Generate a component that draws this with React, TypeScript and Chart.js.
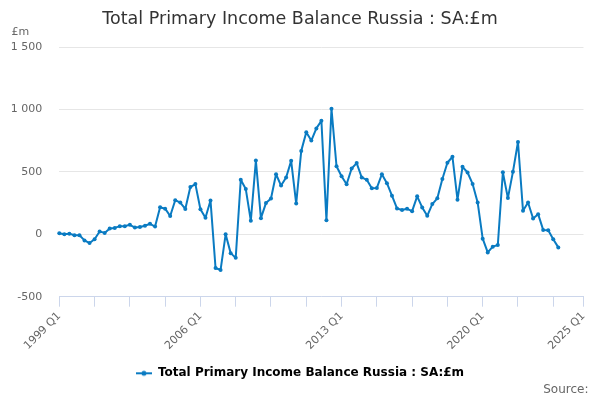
import React, { useEffect, useRef } from "react";
import { Chart, registerables } from "chart.js";

Chart.register(...registerables);

const TITLE = "Total Primary Income Balance Russia : SA:£m";
const SERIES_NAME = "Total Primary Income Balance Russia : SA:£m";
const UNIT_LABEL = "£m";
const SOURCE_LABEL = "Source:";

const START_YEAR = 1999;
const END_YEAR = 2025; // axis runs to 2025 Q1
const quarterLabels: string[] = [];
for (let y = START_YEAR; y <= END_YEAR; y++) {
  for (let q = 1; q <= 4; q++) {
    if (y === END_YEAR && q > 1) break;
    quarterLabels.push(`${y} Q${q}`);
  }
}

const shownLabels = ["1999 Q1", "2006 Q1", "2013 Q1", "2020 Q1", "2025 Q1"];

// 1999 Q1 .. 2023 Q4 (£m)
const values1999to2003 = [8, 0, 5, -8, -8, -49, -70, -40, 22, 11, 46, 51, 65, 65, 76, 54, 59, 68, 84, 62];
const values2004to2008 = [216, 205, 146, 273, 254, 203, 378, 402, 200, 132, 270, -270, -286, 0, -151, -189, 437, 362, 108, 590];
const values2009to2013 = [129, 250, 286, 481, 390, 455, 588, 246, 668, 818, 751, 848, 909, 112, 1005, 545, 465, 401, 527, 570];
const values2014to2018 = [455, 436, 368, 371, 481, 409, 309, 207, 194, 204, 185, 304, 215, 148, 242, 288, 443, 573, 621, 277];
const values2019to2023 = [540, 495, 403, 255, -35, -145, -99, -86, 497, 290, 500, 739, 188, 255, 126, 161, 35, 32, -40, -105];

const seriesValues = [
  ...values1999to2003,
  ...values2004to2008,
  ...values2009to2013,
  ...values2014to2018,
  ...values2019to2023,
];

const yTicks = [-500, 0, 500, 1000, 1500];

const LINE_COLOR = "#0a7bc2";
const FONT = '"DejaVu Sans", sans-serif';

function fmt(v: number): string {
  const s = Math.abs(v).toString();
  const withSpace = s.length > 3 ? s.slice(0, s.length - 3) + " " + s.slice(s.length - 3) : s;
  return (v < 0 ? "-" : "") + withSpace;
}

function legendSymbol(): HTMLCanvasElement {
  const c = document.createElement("canvas");
  c.width = 16;
  c.height = 8;
  const g = c.getContext("2d")!;
  g.strokeStyle = LINE_COLOR;
  g.lineWidth = 2;
  g.beginPath();
  g.moveTo(0, 4);
  g.lineTo(16, 4);
  g.stroke();
  g.fillStyle = LINE_COLOR;
  g.beginPath();
  g.arc(8, 4, 2.5, 0, Math.PI * 2);
  g.fill();
  return c;
}

export default function App() {
  const ref = useRef<HTMLCanvasElement | null>(null);

  useEffect(() => {
    if (!ref.current) return;
    const symbol = legendSymbol();
    const extras = {
      id: "extras",
      afterDraw(chart: any) {
        const ctx = chart.ctx;
        ctx.save();
        ctx.fillStyle = "#666666";
        ctx.textBaseline = "middle";
        ctx.font = `11px ${FONT}`;
        ctx.textAlign = "left";
        ctx.fillText(UNIT_LABEL, 11.5, 32);
        ctx.font = `12px ${FONT}`;
        ctx.textAlign = "right";
        ctx.fillText(SOURCE_LABEL, 588.5, 390);
        ctx.restore();
      },
    };
    const chart = new Chart(ref.current, {
      type: "line",
      data: {
        labels: quarterLabels,
        datasets: [
          {
            label: SERIES_NAME,
            data: seriesValues,
            borderColor: LINE_COLOR,
            backgroundColor: LINE_COLOR,
            borderWidth: 2,
            borderJoinStyle: "round",
            borderCapStyle: "round",
            pointRadius: 2,
            pointBorderWidth: 0,
            pointBackgroundColor: LINE_COLOR,
            tension: 0,
            yAxisID: "y",
          },
        ],
      },
      options: {
        responsive: false,
        animation: false,
        layout: { padding: { left: 0, right: 0, top: 0, bottom: 10.7 } },
        plugins: {
          title: {
            display: true,
            text: TITLE,
            color: "#333333",
            font: { family: FONT, size: 17.5, weight: "normal" },
            padding: { top: 9, bottom: 17 },
          },
          legend: {
            position: "bottom",
            labels: {
              color: "#333333",
              font: { family: FONT, size: 12, weight: "bold" },
              usePointStyle: true,
              pointStyleWidth: 16,
              padding: 10,
              generateLabels: () => [
                {
                  text: SERIES_NAME,
                  pointStyle: symbol as any,
                  fillStyle: LINE_COLOR,
                  strokeStyle: LINE_COLOR,
                  lineWidth: 0,
                  hidden: false,
                  datasetIndex: 0,
                },
              ],
            },
          },
          tooltip: { enabled: false },
        },
        scales: {
          x: {
            type: "category",
            afterBuildTicks: (scale: any) => {
              scale.ticks = scale.ticks.filter(
                (t: any) => t.value % 7 === 0 || t.value === quarterLabels.length - 1
              );
            },
            afterFit: (scale: any) => {
              scale.height = 60.6;
            },
            grid: {
              drawOnChartArea: false,
              drawTicks: true,
              tickLength: 10,
              tickColor: "#ccd6eb",
            },
            border: { display: true, color: "#ccd6eb", width: 1 },
            ticks: {
              autoSkip: false,
              minRotation: 45,
              maxRotation: 45,
              padding: 3,
              color: "#666666",
              font: { family: FONT, size: 11 },
              callback: (value: any) => {
                const lbl = quarterLabels[value as number];
                return shownLabels.includes(lbl) ? lbl : "";
              },
            },
          },
          y: {
            position: "left",
            min: yTicks[0],
            max: yTicks[yTicks.length - 1],
            afterBuildTicks: (scale: any) => {
              scale.ticks = yTicks.map((v) => ({ value: v }));
            },
            afterFit: (scale: any) => {
              scale.width = 59.3;
            },
            grid: { color: "#e6e6e6", drawTicks: false, lineWidth: 1 },
            border: { display: false },
            ticks: {
              padding: 17,
              color: "#666666",
              font: { family: FONT, size: 11 },
              callback: (value: any) => fmt(Number(value)),
            },
          },
          yRight: {
            position: "right",
            min: yTicks[0],
            max: yTicks[yTicks.length - 1],
            afterFit: (scale: any) => {
              scale.width = 16.5;
            },
            grid: { drawOnChartArea: false, drawTicks: false },
            border: { display: false },
            ticks: { display: false },
          },
        },
      },
      plugins: [extras],
    });
    return () => chart.destroy();
  }, []);

  return (
    <div style={{ position: "absolute", left: 0, top: 0, width: 600, height: 400, background: "#fff" }}>
      <canvas ref={ref} width={600} height={400} style={{ display: "block" }} />
    </div>
  );
}
